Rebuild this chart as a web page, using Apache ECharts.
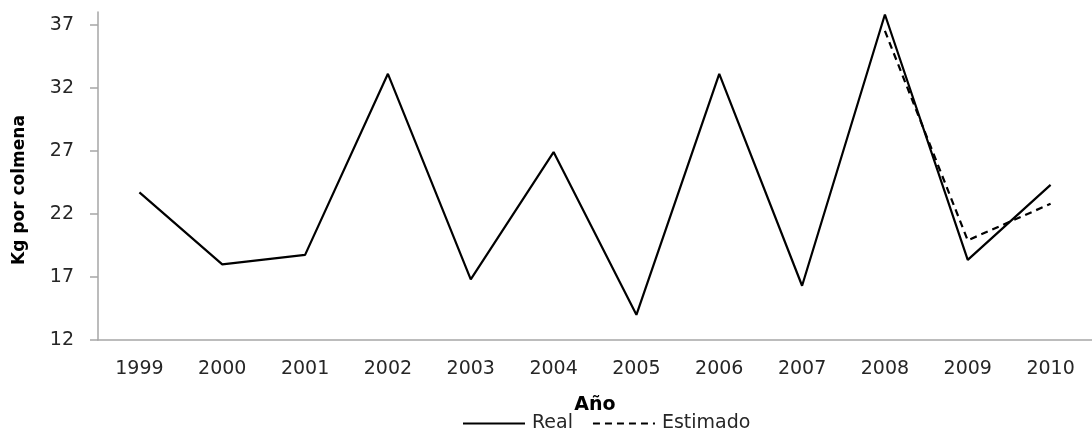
<!DOCTYPE html>
<html>
<head>
<meta charset="utf-8">
<script src="https://cdn.jsdelivr.net/npm/echarts@6/dist/echarts.min.js"></script>
<style>
  html, body { margin: 0; padding: 0; background: #fff; }
  #chart { width: 1092px; height: 430px; }
</style>
</head>
<body>
<div id="chart"></div>
<script>
// Years on the horizontal axis
const years = ['1999', '2000', '2001', '2002', '2003', '2004', '2005', '2006', '2007', '2008', '2009', '2010'];
// Honey yield per hive (kg), observed
const realValues = [23.7, 18.0, 18.75, 33.1, 16.8, 26.9, 14.0, 33.1, 16.3, 37.8, 18.35, 24.3];
// Honey yield per hive (kg), estimated (last three years only)
const estimatedValues = [null, null, null, null, null, null, null, null, null, 36.5, 19.9, 22.8];
// Value-axis tick labels
const yTicks = [12, 17, 22, 27, 32, 37];

const FONT = 'DejaVu Sans';
const axisGray = '#a6a6a6';
const textColor = '#262626';

const chart = echarts.init(document.getElementById('chart'), null, { renderer: 'canvas' });

chart.setOption({
  animation: false,
  backgroundColor: '#ffffff',
  grid: { left: 98, right: -2.5, top: 12, bottom: 90, containLabel: false },
  graphic: [
    {
      type: 'text',
      x: 20,
      y: 190,
      rotation: Math.PI / 2,
      style: {
        text: 'Kg por colmena',
        fontFamily: FONT,
        fontSize: 17,
        fontWeight: 'bold',
        fill: '#000',
        align: 'center',
        verticalAlign: 'middle'
      }
    }
  ],
  legend: {
    left: 462,
    top: 414,
    padding: 0,
    itemWidth: 62,
    itemHeight: 20,
    itemGap: 19,
    itemStyle: { color: 'rgba(0,0,0,0)', borderWidth: 0 },
    textStyle: { fontFamily: FONT, fontSize: 19, color: textColor, padding: [0, 0, 0, 2] },
    data: ['Real', 'Estimado']
  },
  xAxis: {
    type: 'category',
    data: years,
    boundaryGap: true,
    name: 'Año',
    nameLocation: 'middle',
    nameGap: 56,
    nameTextStyle: { fontFamily: FONT, fontSize: 19, fontWeight: 'bold', color: '#000' },
    axisLine: { lineStyle: { color: axisGray, width: 1.5 } },
    axisTick: { alignWithLabel: true, length: 6, lineStyle: { color: axisGray, width: 1.5 } },
    axisLabel: { margin: 20, fontFamily: FONT, fontSize: 19, color: textColor }
  },
  yAxis: {
    type: 'value',
    min: 12,
    max: 38,
    splitLine: { show: false },
    axisLine: { show: true, lineStyle: { color: axisGray, width: 1.5 } },
    axisTick: { show: true, length: 8, customValues: yTicks, lineStyle: { color: axisGray, width: 1.5 } },
    axisLabel: { margin: 24, fontFamily: FONT, fontSize: 19, color: textColor, customValues: yTicks }
  },
  series: [
    {
      name: 'Real',
      type: 'line',
      data: realValues,
      symbol: 'none',
      lineStyle: { color: '#000', width: 2.2 },
      itemStyle: { color: '#000' }
    },
    {
      name: 'Estimado',
      type: 'line',
      data: estimatedValues,
      symbol: 'none',
      connectNulls: false,
      lineStyle: { color: '#000', width: 2.2, type: [7, 5] },
      itemStyle: { color: '#000' }
    }
  ]
});
</script>
</body>
</html>
